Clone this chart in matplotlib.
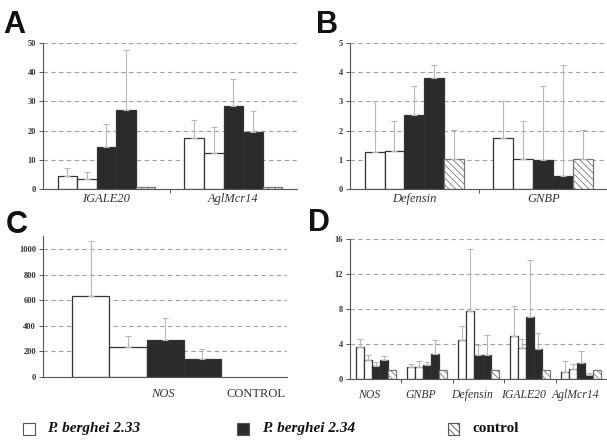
import matplotlib
matplotlib.use("Agg")
import matplotlib.pyplot as plt
import numpy as np
from matplotlib.patches import Rectangle

# ---- data ----
# series order: 2.33 (a), 2.33 (b), 2.34 (a), 2.34 (b), control
series_kind = ["white", "white", "black", "black", "control"]

a_genes = ["IGALE20", "AglMcr14"]
a_values = [[4.6, 3.4, 14.5, 27.1, 0.6],
            [17.4, 12.2, 28.3, 19.7, 0.6]]
a_err_top = [[7.1, 5.7, 22.3, 47.7, 0.6],
             [23.7, 21.1, 37.6, 26.8, 0.6]]

b_genes = ["Defensin", "GNBP"]
b_values = [[1.28, 1.3, 2.55, 3.8, 1.02],
            [1.76, 1.04, 0.99, 0.45, 1.02]]
b_err_top = [[3.03, 2.32, 3.52, 4.24, 2.02],
             [3.03, 2.32, 3.52, 4.24, 2.02]]

c_values = [633, 233, 288, 144]
c_err_top = [1060, 319, 458, 222]
c_labels = ["NOS", "CONTROL"]

d_genes = ["NOS", "GNBP", "Defensin", "IGALE20", "AglMcr14"]
d_values = [[3.6, 2.2, 1.5, 2.15, 1.0],
            [1.36, 1.36, 1.55, 2.9, 1.0],
            [4.4, 7.8, 2.7, 2.7, 1.0],
            [4.9, 3.55, 7.05, 3.4, 1.0],
            [0.8, 1.1, 1.85, 0.45, 1.0]]
d_err_top = [[4.6, 2.7, 1.9, 2.6, 1.0],
             [1.75, 2.05, 1.9, 4.5, 1.0],
             [6.0, 14.8, 3.9, 5.0, 1.0],
             [8.3, 4.6, 13.6, 5.3, 1.0],
             [2.0, 1.75, 3.2, 0.7, 1.0]]

SERIF = ["Liberation Serif", "DejaVu Serif"]
EDGE = "#333333"
DARK = "#2b2b2b"
ERRC = "#b8b8b8"


def style_for(kind):
    if kind == "white":
        return dict(facecolor="white", edgecolor=EDGE, hatch=None)
    if kind == "black":
        return dict(facecolor=DARK, edgecolor=EDGE, hatch=None)
    return dict(facecolor="white", edgecolor="#777777", hatch="\\\\\\\\\\")


def setup_axes(ax, ymax, yticks):
    ax.set_ylim(0, ymax)
    ax.set_yticks(yticks)
    ax.set_yticklabels([str(t) for t in yticks], fontfamily=SERIF,
                       fontweight="bold", fontsize=6, color="#333333")
    for t in yticks[1:]:
        ax.axhline(t, color="#a0a0a0", lw=0.8, ls=(0, (4, 3)), zorder=0)
    for s in ["top", "right"]:
        ax.spines[s].set_visible(False)
    ax.spines["left"].set_color("#555555")
    ax.spines["bottom"].set_color("#555555")
    ax.spines["left"].set_linewidth(0.8)
    ax.spines["bottom"].set_linewidth(0.8)
    ax.tick_params(axis="y", length=3, width=0.7, color="#555555", pad=2)
    ax.tick_params(axis="x", length=0, pad=3)


def grouped_bars(ax, centers, values, err_top, width):
    n = len(values[0])
    offsets = (np.arange(n) - (n - 1) / 2) * width
    for ci, c in enumerate(centers):
        for k in range(n):
            kind = series_kind[k]
            st = style_for(kind)
            x = c + offsets[k]
            v = values[ci][k]
            ax.bar(x, v, width=width, linewidth=0.9, zorder=2, **st)
            e = err_top[ci][k] - v
            if e > 0:
                ax.errorbar(x, v, yerr=[[0], [e]], color=ERRC, lw=0.8,
                            capsize=2, capthick=0.8, zorder=3)


plt.rcParams["hatch.color"] = "#666666"
plt.rcParams["hatch.linewidth"] = 0.6

fig = plt.figure(figsize=(6.07, 4.43), dpi=100)

# panel A
axA = fig.add_axes([0.0708, 0.573, 0.418, 0.33])
setup_axes(axA, 50, [0, 10, 20, 30, 40, 50])
grouped_bars(axA, [0.5, 1.5], a_values, a_err_top, 0.154)
axA.set_xlim(0, 2)
axA.set_xticks([0.5, 1.5])
axA.set_xticklabels(a_genes, fontfamily=SERIF, fontstyle="italic",
                    fontsize=9, color="#333333")
axA.set_xticks([1], minor=True)
axA.tick_params(axis="x", which="minor", length=3, width=0.7, color="#555555")

# panel B
axB = fig.add_axes([0.5766, 0.573, 0.425, 0.33])
setup_axes(axB, 5, [0, 1, 2, 3, 4, 5])
grouped_bars(axB, [0.5, 1.5], b_values, b_err_top, 0.155)
axB.set_xlim(0, 2)
axB.set_xticks([0.5, 1.5])
axB.set_xticklabels(b_genes, fontfamily=SERIF, fontstyle="italic",
                    fontsize=9, color="#333333")
axB.set_xticks([1], minor=True)
axB.tick_params(axis="x", which="minor", length=3, width=0.7, color="#555555")

# panel C
axC = fig.add_axes([0.0708, 0.149, 0.402, 0.318])
setup_axes(axC, 1100, [0, 200, 400, 600, 800, 1000])
axC.set_xlim(0, 2)
c_width = 0.305
c_center = 0.85
c_off = (np.arange(len(c_values)) - (len(c_values) - 1) / 2) * c_width
for k, v in enumerate(c_values):
    st = style_for(series_kind[k])
    x = c_center + c_off[k]
    axC.bar(x, v, width=c_width, linewidth=0.9, zorder=2, **st)
    axC.errorbar(x, v, yerr=[[0], [c_err_top[k] - v]], color=ERRC, lw=0.8,
                 capsize=2, capthick=0.8, zorder=3)
axC.set_xticks([0.98, 1.75])
axC.set_xticklabels(c_labels, fontfamily=SERIF, fontsize=9, color="#333333")
axC.get_xticklabels()[0].set_fontstyle("italic")
axC.tick_params(axis="x", pad=8)

# panel D
axD = fig.add_axes([0.5766, 0.1445, 0.4234, 0.316])
setup_axes(axD, 16, [0, 4, 8, 12, 16])
centers_d = np.arange(len(d_genes)) + 0.5
grouped_bars(axD, centers_d, d_values, d_err_top, 0.156)
axD.set_xlim(0, len(d_genes))
axD.set_xticks(centers_d - 0.12)
axD.set_xticklabels(d_genes, fontfamily=SERIF, fontstyle="italic",
                    fontsize=8.5, color="#333333")
axD.set_xticks(np.arange(1, len(d_genes)), minor=True)
axD.tick_params(axis="x", which="minor", length=3, width=0.7, color="#555555")
axD.tick_params(axis="x", which="major", pad=7)

# panel letters
for lab, (x, y) in zip("ABCD", [(0.006, 0.925), (0.52, 0.925),
                                 (0.01, 0.475), (0.508, 0.478)]):
    fig.text(x, y, lab, fontfamily=["Liberation Sans", "DejaVu Sans"],
             fontweight="bold", fontsize=22, color="#111111")

# legend along the bottom
leg_items = [("white", "P. berghei 2.33", "italic", 0.038),
             ("black", "P. berghei 2.34", "italic", 0.391),
             ("control", "control", "normal", 0.738)]
for kind, text, style, x0 in leg_items:
    st = style_for(kind)
    fig.add_artist(Rectangle((x0, 0.018), 0.019, 0.028, transform=fig.transFigure,
                             facecolor=st["facecolor"], edgecolor="#555555",
                             hatch=st["hatch"], linewidth=0.8))
    fig.text(x0 + 0.04, 0.032, text, fontfamily=SERIF, fontweight="bold",
             fontstyle=style, fontsize=11, va="center", color="#111111")

fig.savefig("out.png", dpi=100)
